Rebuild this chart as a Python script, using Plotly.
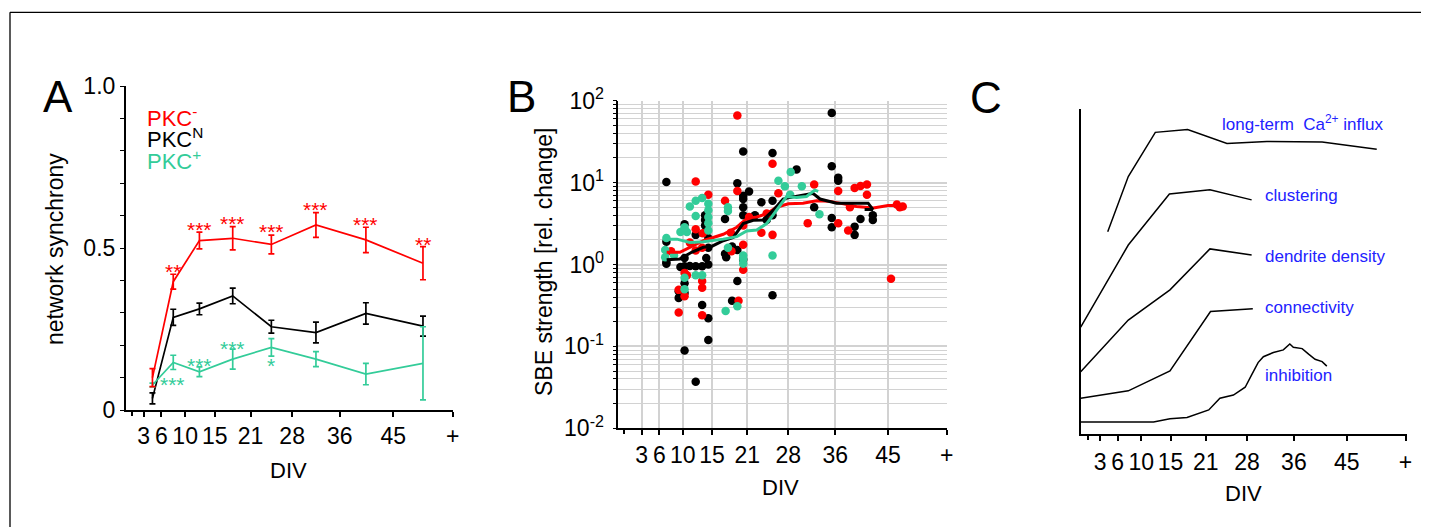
import math
import plotly.graph_objects as go

W, H = 1432, 527
OFF = 8  # default page body margin of the written html; positions below are screen pixels
FONT = "Arial, 'Liberation Sans', Helvetica, sans-serif"
RED = "#FF0000"
GREEN = "#33CC99"
BLACK = "#000000"
BLUE = "#2222FF"
GRID = "#D2D2D2"

# ---------------- shared DIV axis ----------------
TICK_VALS = [3, 6, 10, 15, 21, 28, 36, 45, 55]
TICK_TEXT = ["3", "6", "10", "15", "21", "28", "36", "45", "+"]

# ---------------- Panel A : network synchrony ----------------
a_div = [4.5, 8, 12.4, 18, 24.5, 32, 40.4, 50]
a_red = [0.10, 0.396, 0.523, 0.53, 0.511, 0.571, 0.525, 0.453]
a_red_err = [0.028, 0.023, 0.026, 0.036, 0.029, 0.038, 0.039, 0.051]
a_black = [0.036, 0.286, 0.312, 0.352, 0.257, 0.239, 0.298, 0.259]
a_black_err = [0.017, 0.025, 0.018, 0.024, 0.020, 0.032, 0.033, 0.031]
a_green = [0.077, 0.147, 0.118, 0.157, 0.193, 0.157, 0.111, 0.144]
a_green_err = [0.006, 0.022, 0.015, 0.031, 0.027, 0.023, 0.033, 0.113]

a_red_star_x = [8, 12.4, 18, 24.5, 32, 40.4, 50]
a_red_star_y = [0.442, 0.572, 0.59, 0.566, 0.634, 0.589, 0.527]
a_red_star_t = ["**", "***", "***", "***", "***", "***", "**"]
a_green_star_x = [7.9, 12.4, 18, 24.5]
a_green_star_y = [0.093, 0.154, 0.204, 0.154]
a_green_star_t = ["***", "***", "***", "*"]

# ---------------- Panel B : SBE strength ----------------
b_black_x = [7.2, 7.2, 7.2, 7.2, 9.3, 9.4, 9.3, 9.6, 10.3, 10.3, 10.3, 10.3, 10.3, 10.3,
             11.2, 12.2, 12.2, 12.2, 13.3, 13.3, 13.8, 13.8, 13.8,
             14.35, 14.35, 14.35, 14.35, 14.35, 14.0, 17.2, 17.2, 17.4, 18.4, 18.4,
             19.3, 19.3, 19.3, 20.3, 20.3, 20.3, 20.3, 20.3, 21.3, 20.3,
             22.3, 23.4, 24.3, 25.3, 25.3, 25.3, 25.3, 29.4, 32.4,
             35.4, 35.4, 35.4, 35.4, 36.5, 36.5, 39.3, 39.3, 40.3, 42.4, 42.4]
b_black_y = [10.2, 1.9, 1.07, 1.02, 0.47, 0.40, 0.39, 0.93, 0.089, 3.1, 0.59, 0.45, 0.95, 1.2,
             0.96, 0.037, 2.3, 0.95, 0.32, 0.95, 4.0, 3.5, 3.0,
             0.22, 0.12, 1.0, 1.6, 2.1, 1.2, 3.6, 1.35, 1.23, 0.36, 1.66,
             9.8, 0.63, 1.5, 24, 6.9, 6.3, 5.0, 4.0, 7.8, 1.15,
             4.0, 5.75, 3.5, 23, 6.0, 4.0, 0.42, 14.5, 5.0,
             71, 15.8, 3.7, 2.85, 11.5, 10.5, 2.9, 2.3, 3.6, 4.0, 3.5]
b_red_x = [12.2, 14.35, 17.2, 12.2, 18.2, 10.3, 13.3, 13.3, 9.3, 10.3, 9.3, 13.3, 11.2, 13.3, 12.2, 10.7,
           19.3, 25.3, 32.4, 36.5, 26.3, 19.3, 24.3, 23.4, 25.3, 31.3, 36.5, 38.2, 18.3, 20.3,
           20.3, 19.5, 20.3, 21.3, 8.0, 13.4,
           39.3, 40.3, 41.4, 41.4, 38.5, 46.5, 47.0, 47.5, 45.5]
b_red_y = [10.3, 7.1, 6.0, 2.7, 2.45, 0.79, 0.63, 0.52, 0.49, 0.41, 0.26, 0.24, 1.85, 1.6, 1.48, 0.74,
           66, 17, 9.5, 7.9, 7.4, 7.9, 4.2, 2.45, 2.3, 3.2, 3.2, 2.6, 1.45, 1.74,
           0.86, 0.36, 3.0, 3.8, 1.45, 2.4,
           8.6, 9.1, 9.5, 7.1, 5.0, 5.4, 5.0, 5.1, 0.67]
b_green_x = [12.2, 13.3, 11.2, 14.35, 14.35, 14.35, 14.35, 14.35, 9.6, 10.7, 7.2, 7.0, 7.0,
             12.2, 13.3, 10.3, 10.3, 17.3, 19.3, 28.4, 26.3, 27.4, 30.3, 33.3, 25.3,
             17.7, 17.7, 17.7, 20.3, 20.3, 20.3, 10.3, 12.2, 8.5, 28.3]
b_green_y = [6.0, 6.5, 5.1, 5.5, 4.6, 3.8, 3.2, 2.6, 2.5, 2.5, 2.1, 1.5, 1.23,
             0.74, 0.74, 0.69, 0.5, 0.27, 0.31, 13.5, 10.5, 9.0, 9.0, 4.1, 1.29,
             5.0, 4.5, 1.6, 1.29, 1.17, 1.02, 2.85, 3.9, 1.3, 7.1]

b_black_line_x = [7.25, 9.5, 11.5, 13.5, 14.9, 16.9, 18.6, 20.3, 22.0, 23.7, 25.4, 27.1, 28.3,
                  30.5, 32.2, 33.4, 36.2, 41.6, 42.4, 41.0]
b_black_line_y = [1.14, 1.17, 1.41, 1.62, 1.66, 1.95, 2.14, 3.16, 3.47, 3.5, 4.57, 6.3, 6.6,
                  7.1, 7.4, 6.3, 5.6, 5.6, 4.7, 4.7]
b_red_line_x = [7.25, 9.5, 11.2, 13.5, 16.9, 19.2, 20.9, 22.6, 24.3, 26.0, 28.0, 30.5, 32.8,
                35.1, 37.4, 39.6, 42.5, 45.0, 47.0]
b_red_line_y = [1.41, 1.41, 1.62, 1.95, 2.34, 2.85, 3.63, 3.8, 4.17, 5.0, 5.5, 5.6, 6.0,
                5.9, 5.5, 5.1, 4.9, 5.25, 5.25]
b_green_line_x = [7.0, 9.0, 11.2, 13.5, 16.9, 19.2, 20.9, 22.6, 24.3, 26.0, 27.7, 29.4, 31.1,
                  32.5, 33.1]
b_green_line_y = [2.04, 2.04, 1.86, 1.9, 2.04, 2.19, 2.57, 2.63, 3.16, 4.57, 6.76, 6.6, 6.76,
                  8.1, 7.8]

# ---------------- Panel C : schematic ----------------
c_ca_x = [4.3, 7.8, 12.4, 17.9, 24.6, 31.4, 40.8, 50.1]
c_ca_y = [62.3, 79.3, 92.9, 93.8, 89.5, 90.1, 89.9, 87.7]
c_clu_x = [-0.3, 7.8, 14.8, 21.7, 28.8]
c_clu_y = [32.9, 58.2, 73.9, 75.2, 72.1]
c_den_x = [-0.3, 7.8, 14.9, 21.7, 28.8]
c_den_y = [19.2, 35.1, 44.4, 57.0, 55.1]
c_con_x = [-0.3, 7.8, 14.9, 21.8, 29.0]
c_con_y = [11.0, 13.3, 19.4, 37.7, 38.6]
c_inh_x = [-0.3, 12.1, 14.9, 17.8, 21.5, 23.4, 25.7, 27.7, 28.8, 29.9, 30.8, 32.5, 34.2,
           35.3, 35.9, 37.4, 38.5, 39.6, 40.8, 41.6]
c_inh_y = [3.7, 3.7, 4.7, 5.1, 7.4, 11.0, 12.0, 14.4, 18.2, 22.0, 23.8, 25.1, 25.9,
           27.7, 26.7, 26.3, 24.6, 23.0, 22.3, 20.9]
c_labels = ["long-term  Ca<sup>2+</sup> influx", "clustering", "dendrite density",
            "connectivity", "inhibition"]

# ---------------- figure ----------------
fig = go.Figure()


def px_x(p):
    return (p - OFF) / W


def px_y(p):
    return 1 - (p - OFF) / H


# Panel A traces
for ys, es, col in [(a_black, a_black_err, BLACK), (a_green, a_green_err, GREEN),
                    (a_red, a_red_err, RED)]:
    fig.add_trace(go.Scatter(
        x=a_div, y=ys, mode="lines", line=dict(color=col, width=1.7),
        error_y=dict(type="data", array=es, visible=True, color=col, thickness=1.7, width=3),
        xaxis="x", yaxis="y", hoverinfo="skip"))

# Panel B traces
for xs, ys, col in [(b_black_x, b_black_y, BLACK), (b_red_x, b_red_y, RED),
                    (b_green_x, b_green_y, GREEN)]:
    fig.add_trace(go.Scatter(x=xs, y=ys, mode="markers",
                             marker=dict(color=col, size=8.5, line=dict(width=0)),
                             xaxis="x2", yaxis="y2", hoverinfo="skip"))
for xs, ys, col in [(b_red_line_x, b_red_line_y, RED), (b_black_line_x, b_black_line_y, BLACK),
                    (b_green_line_x, b_green_line_y, GREEN)]:
    fig.add_trace(go.Scatter(x=xs, y=ys, mode="lines", line=dict(color=col, width=3),
                             xaxis="x2", yaxis="y2", hoverinfo="skip"))

# Panel C traces
for xs, ys in [(c_ca_x, c_ca_y), (c_clu_x, c_clu_y), (c_den_x, c_den_y),
               (c_con_x, c_con_y), (c_inh_x, c_inh_y)]:
    fig.add_trace(go.Scatter(x=xs, y=ys, mode="lines", line=dict(color=BLACK, width=1.5),
                             xaxis="x3", yaxis="y3", hoverinfo="skip"))

tickfont = dict(family=FONT, size=23, color=BLACK)
common_x = dict(showline=True, linecolor=BLACK, linewidth=1.5, ticks="outside", ticklen=5,
                tickwidth=1.5, tickcolor=BLACK, tickvals=TICK_VALS, ticktext=TICK_TEXT,
                tickfont=tickfont, zeroline=False, fixedrange=True, automargin=False)

# panel B y ticks: decades labelled, 2..9 as minor ticks with grid
y2_major = [0.01, 0.1, 1, 10, 100]
y2_major_text = ["10<sup>%d</sup>" % round(math.log10(v)) for v in y2_major]
y2_minor = [m * d for d in [0.01, 0.1, 1, 10] for m in range(2, 10)]

fig.update_layout(
    width=W, height=H, autosize=False, margin=dict(l=0, r=0, t=0, b=0, pad=0, autoexpand=False),
    paper_bgcolor="white", plot_bgcolor="white", showlegend=False,
    font=dict(family=FONT, color=BLACK),
    xaxis=dict(domain=[px_x(125.7), px_x(452.7)], range=[0, 55], anchor="y", showgrid=False,
               ticklabelstandoff=0,
               minor=dict(tickvals=[1], ticks="outside", ticklen=4, tickcolor=BLACK), **common_x),
    yaxis=dict(domain=[px_y(410), px_y(86)], range=[0, 1], anchor="x", showline=True,
               linecolor=BLACK, linewidth=1.5, ticks="outside", ticklen=4, tickwidth=1.3,
               tickcolor=BLACK, tickvals=[0, 0.5, 1.0], ticktext=["0", "0.5", "1.0"],
               minor=dict(dtick=0.1, ticks="outside", ticklen=4, tickcolor=BLACK),
               tickfont=tickfont, showgrid=False, zeroline=False, automargin=False),
    xaxis2=dict(domain=[px_x(618.3), px_x(946.7)], range=[-1, 55], anchor="y2", showgrid=True,
                gridcolor=GRID, gridwidth=1.6, ticklabelstandoff=0,
                minor=dict(tickvals=[0], ticks="outside", ticklen=4, tickcolor=BLACK, showgrid=False),
                **common_x),
    yaxis2=dict(domain=[px_y(428.3), px_y(100.7)], type="log", range=[-2, 2], anchor="x2",
                showline=True, linecolor=BLACK, linewidth=1.5, ticks="outside", ticklen=4,
                tickwidth=1.3, tickcolor=BLACK, tickvals=y2_major, ticktext=y2_major_text,
                ticklabelstandoff=4, automargin=False,
                minor=dict(tickvals=y2_minor, ticks="outside", ticklen=4, tickcolor=BLACK,
                           showgrid=True, gridcolor=GRID, gridwidth=1.4),
                tickfont=tickfont, showgrid=True, gridcolor=GRID, gridwidth=1.6, zeroline=False),
    xaxis3=dict(domain=[px_x(1080.7), px_x(1406.7)], range=[-0.3, 55.2], anchor="y3",
                showgrid=False, ticklabelstandoff=2,
                minor=dict(tickvals=[1], ticks="outside", ticklen=4, tickcolor=BLACK), **common_x),
    yaxis3=dict(domain=[px_y(434), px_y(109.3)], range=[0, 100], anchor="x3", showline=True,
                linecolor=BLACK, linewidth=1.5, ticks="", showticklabels=False, showgrid=False,
                zeroline=False, automargin=False),
)

# reference line at 1 in panel B (log coordinates -> log10(1) = 0)
fig.add_shape(type="line", xref="x2 domain", x0=0, x1=1, yref="y2", y0=0, y1=0,
              line=dict(color="#222222", width=1.6))
# figure frame (top and left edges)
fig.add_shape(type="line", xref="paper", yref="paper", x0=px_x(10), x1=px_x(1421),
              y0=px_y(12.3), y1=px_y(12.3), line=dict(color=BLACK, width=1.3))
fig.add_shape(type="line", xref="paper", yref="paper", x0=px_x(10), x1=px_x(10),
              y0=px_y(12.3), y1=0, line=dict(color=BLACK, width=1.3))

ann = []


def text(x, y, t, size, color=BLACK, angle=0, xanchor="center", xref="paper", yref="paper",
         yshift=0):
    ann.append(dict(x=x, y=y, text=t, showarrow=False, xref=xref, yref=yref,
                    xanchor=xanchor, yanchor="middle", textangle=angle, yshift=yshift,
                    font=dict(family=FONT, size=size, color=color)))


# panel letters
text(px_x(58), px_y(96), "A", 44)
text(px_x(521.5), px_y(96), "B", 44)
text(px_x(986), px_y(97), "C", 44)

# axis titles
text(px_x(55), px_y(249), "network synchrony", 23, angle=-90)
text(px_x(288), px_y(470), "DIV", 22)
text(px_x(544), px_y(262), "SBE strength [rel. change]", 23, angle=-90)
text(px_x(780), px_y(487), "DIV", 22)
text(px_x(1243), px_y(493), "DIV", 22)

# legend of panel A
text(px_x(145), px_y(116.7), "PKC<sup>-</sup>", 22, RED, xanchor="left")
text(px_x(145), px_y(138.3), "PKC<sup>N</sup>", 22, BLACK, xanchor="left")
text(px_x(145), px_y(160), "PKC<sup>+</sup>", 22, GREEN, xanchor="left")

# significance stars
for xs, ys, ts, col in [(a_red_star_x, a_red_star_y, a_red_star_t, RED),
                        (a_green_star_x, a_green_star_y, a_green_star_t, GREEN)]:
    for x, y, t in zip(xs, ys, ts):
        text(x, y, t, 21, col, xref="x", yref="y", yshift=-5)

# panel C labels
c_label_pos = [(1220, 123.3), (1263.3, 196), (1263.3, 256), (1263.3, 307.7), (1263.3, 375)]
for lab, (lx, ly) in zip(c_labels, c_label_pos):
    text(px_x(lx), px_y(ly), lab, 17, BLUE, xanchor="left")

fig.update_layout(annotations=ann)
fig.write_html("out.html", config={"displayModeBar": False})
